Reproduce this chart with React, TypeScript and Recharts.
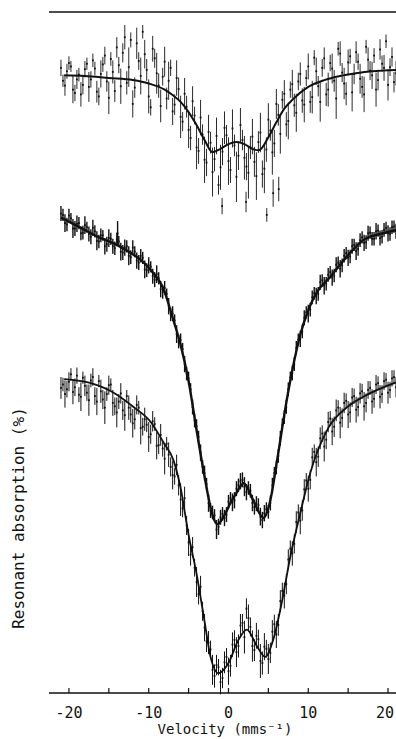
import { ComposedChart, Scatter, Line, XAxis, YAxis, ErrorBar, ReferenceLine } from "recharts";

type Pt = [number, number, number]; // velocity, absorption, error
type FitPt = [number, number];

// upper spectrum: noisy data
const topPoints: Pt[] = [
  [-21, 91.8, 1.2], [-20.5, 89.2, 1.5], [-20, 92.5, 1.0], [-19.5, 88.6, 2.0], [-19, 90.1, 1.4],
  [-18.5, 87.9, 1.8], [-18, 91.6, 1.2], [-17.5, 89.0, 2.2], [-17, 92.9, 1.0], [-16.5, 88.3, 1.6],
  [-16, 90.9, 2.0], [-15.5, 93.6, 1.3], [-15, 87.4, 2.4], [-14.5, 91.2, 1.7], [-14, 94.8, 1.5],
  [-13.5, 89.1, 2.6], [-13, 96.3, 1.8], [-12.5, 91.9, 2.9], [-12, 86.5, 2.0], [-11.5, 95.4, 2.3],
  [-11, 90.6, 2.7], [-10.5, 93.8, 2.1], [-10, 87.6, 2.5], [-9.5, 94.6, 1.9], [-9, 91.0, 3.0],
  [-8.5, 86.2, 2.4], [-8, 92.7, 2.2], [-7.5, 89.9, 2.8], [-7, 85.4, 2.0], [-6.5, 90.3, 2.6],
  [-6, 84.6, 3.1], [-5.5, 88.0, 2.3], [-5, 82.7, 2.7], [-4.5, 86.9, 2.2], [-4, 80.1, 3.2],
  [-3.5, 84.5, 2.6], [-3, 78.3, 3.4], [-2.5, 82.4, 2.5], [-2, 76.5, 3.6], [-1.5, 81.8, 2.7],
  [-1, 77.2, 3.3], [-0.5, 83.0, 2.4], [0, 78.1, 3.5], [0.5, 82.9, 2.8], [1, 75.8, 3.7],
  [1.5, 83.4, 2.5], [2, 78.6, 3.2], [2.5, 76.4, 3.8], [3, 81.7, 2.6], [3.5, 75.9, 3.5],
  [4, 82.3, 2.9], [4.5, 77.0, 3.6], [5, 84.2, 2.4], [5.5, 79.4, 3.3], [6, 86.5, 2.2],
  [6.5, 82.1, 2.9], [7, 88.0, 2.0], [7.5, 84.0, 2.7], [8, 89.4, 2.1], [8.5, 85.2, 2.8],
  [9, 90.9, 1.7], [9.5, 86.4, 2.6], [10, 92.0, 1.9], [10.5, 87.5, 2.4], [11, 91.3, 2.0],
  [11.5, 86.8, 2.9], [12, 93.2, 1.6], [12.5, 88.6, 2.5], [13, 91.7, 2.2], [13.5, 87.3, 3.0],
  [14, 93.9, 1.8], [14.5, 89.5, 2.3], [15, 92.6, 1.9], [15.5, 88.2, 2.8], [16, 94.1, 1.6],
  [16.5, 90.2, 2.2], [17, 87.9, 2.6], [17.5, 93.0, 1.8], [18, 90.7, 2.0], [18.5, 88.6, 2.5],
  [19, 94.5, 1.5], [19.5, 91.8, 1.9], [20, 89.3, 2.3], [20.5, 93.4, 1.4], [21, 91.0, 1.8],
  [-0.8, 71.5, 1.2], [2.2, 72.1, 1.5], [4.8, 70.2, 1.0], [5.6, 73.4, 2.0], [6.3, 74.0, 1.8],
  [-20.75, 89.9, 0.9], [-20.25, 91.3, 1.1], [-19.75, 92.0, 0.8], [-19.25, 88.1, 1.2], [-18.75, 90.8, 1.0],
  [-18.25, 89.3, 1.4], [-17.75, 92.4, 0.9], [-17.25, 90.1, 1.2], [-16.75, 91.7, 1.0], [-16.25, 87.6, 1.3],
  [-15.75, 92.3, 1.1], [-15.25, 89.8, 1.5], [-14.75, 93.1, 1.0], [-14.25, 88.4, 1.6], [-13.75, 92.2, 1.2],
  [-13.25, 94.0, 1.4], [-12.75, 89.6, 1.7], [-12.25, 95.9, 1.1], [-11.75, 88.9, 1.5], [-11.25, 92.8, 1.3],
  [-10.75, 97.1, 1.0], [-10.25, 91.5, 1.6], [-9.75, 86.0, 1.2], [-9.25, 93.2, 1.4], [-8.75, 89.2, 1.8],
  [-8.25, 90.5, 1.3], [-7.75, 87.3, 1.6], [-7.25, 91.8, 1.2], [-6.75, 86.4, 1.5], [-6.25, 88.7, 1.7],
  [-5.75, 83.9, 1.4], [-5.25, 86.1, 1.6], [-4.75, 81.5, 1.8], [-4.25, 84.8, 1.3], [-3.75, 79.6, 1.9],
  [-3.25, 82.0, 1.5], [-2.75, 77.9, 2.0], [-2.25, 80.8, 1.6], [-1.75, 78.4, 1.8], [-1.25, 74.6, 1.4],
  [-0.75, 79.5, 2.0], [-0.25, 81.9, 1.5], [0.25, 76.8, 1.9], [0.75, 80.4, 1.6], [1.25, 78.9, 2.1],
  [1.75, 81.2, 1.5], [2.25, 77.3, 2.0], [2.75, 80.1, 1.7], [3.25, 78.0, 2.2], [3.75, 80.9, 1.6],
  [4.25, 76.2, 2.0], [4.75, 79.8, 1.8], [5.25, 82.6, 1.5], [5.75, 80.7, 2.0], [6.25, 84.9, 1.6],
  [6.75, 87.1, 1.3], [7.25, 83.5, 1.8], [7.75, 88.6, 1.2], [8.25, 86.3, 1.7], [8.75, 89.8, 1.3],
  [9.25, 87.0, 1.8], [9.75, 90.3, 1.2], [10.25, 86.8, 1.6], [10.75, 93.3, 1.1], [11.25, 89.1, 1.5],
  [11.75, 91.8, 1.3], [12.25, 87.9, 1.7], [12.75, 92.5, 1.2], [13.25, 89.9, 1.6], [13.75, 94.6, 1.0],
  [14.25, 91.1, 1.4], [14.75, 88.0, 1.7], [15.25, 93.5, 1.1], [15.75, 90.9, 1.5], [16.25, 92.7, 1.2],
  [16.75, 89.0, 1.6], [17.25, 94.9, 1.0], [17.75, 91.4, 1.4], [18.25, 93.6, 1.1], [18.75, 90.0, 1.5],
  [19.25, 92.4, 1.2], [19.75, 95.7, 1.0], [20.25, 91.9, 1.3], [20.75, 89.7, 1.5],
];

// middle spectrum: dense, low noise
const midPoints: Pt[] = [
  [-21, 70.4, 1.1], [-20.5, 69.0, 1.3], [-20, 70.1, 1.0], [-19.5, 68.2, 1.4], [-19, 68.9, 1.2],
  [-18.5, 67.5, 1.0], [-18, 68.7, 1.3], [-17.5, 67.4, 1.1], [-17, 68.3, 1.2], [-16.5, 66.4, 1.4],
  [-16, 67.2, 1.0], [-15.5, 65.6, 1.2], [-15, 66.8, 1.3], [-14.5, 65.6, 1.1], [-14, 66.6, 1.0],
  [-13.9, 67.5, 1.8], [-13.5, 64.8, 1.3], [-13, 65.4, 1.2], [-12.5, 64.2, 1.4], [-12, 65.4, 1.1],
  [-11.5, 63.5, 1.2], [-11, 64.2, 1.0], [-10.5, 62.2, 1.3], [-10, 62.8, 1.2], [-9.5, 61.2, 1.1],
  [-9, 61.5, 1.3], [-8.5, 59.3, 1.2], [-8, 59.5, 1.0], [-7.5, 56.8, 1.2], [-7, 55.7, 1.1],
  [-6.5, 52.7, 1.3], [-6, 51.8, 1.0], [-5.5, 48.3, 1.2], [-5, 46.2, 1.0], [-4.5, 42.0, 1.1],
  [-4, 39.2, 1.0], [-3.5, 35.3, 1.2], [-3, 32.3, 1.1], [-2.5, 27.9, 1.3], [-2, 26.5, 1.0],
  [-1.5, 24.0, 1.4], [-1, 25.8, 1.1], [-0.5, 25.7, 1.2], [0, 28.1, 1.0], [0.5, 28.0, 1.3],
  [1, 30.0, 1.1], [1.5, 31.1, 1.2], [2, 30.3, 1.4], [2.5, 30.1, 1.0], [3, 27.9, 1.2],
  [3.5, 27.8, 1.1], [4, 25.9, 1.3], [4.5, 26.4, 1.2], [5, 26.6, 1.0], [5.5, 30.5, 1.1],
  [6, 33.1, 1.0], [6.5, 37.4, 1.1], [7, 40.5, 1.0], [7.5, 44.6, 1.0], [8, 47.0, 1.1],
  [8.5, 50.7, 1.0], [9, 52.0, 1.2], [9.5, 55.1, 1.1], [10, 55.7, 1.3], [10.5, 58.1, 1.0],
  [11, 58.3, 1.2], [11.5, 60.3, 1.1], [12, 59.8, 1.3], [12.5, 61.4, 1.0], [13, 61.0, 1.2],
  [13.5, 62.9, 1.1], [14, 62.3, 1.3], [14.5, 64.2, 1.0], [15, 63.9, 1.2], [15.5, 65.6, 1.1],
  [16, 64.9, 1.3], [16.5, 66.5, 1.0], [17, 66.1, 1.2], [17.5, 67.5, 1.1], [18, 66.7, 1.0],
  [18.5, 67.8, 1.2], [19, 66.8, 1.1], [19.5, 68.0, 1.0], [20, 67.5, 1.2], [20.5, 68.4, 1.0],
  [21, 67.8, 1.1],
  [-20.75, 70.2, 0.9], [-20.25, 68.8, 1.0], [-19.75, 69.7, 0.8], [-19.25, 68.2, 1.1], [-18.75, 69.0, 0.9],
  [-18.25, 67.6, 1.0], [-17.75, 68.4, 0.8], [-17.25, 67.0, 1.1], [-16.75, 67.8, 0.9], [-16.25, 66.3, 1.0],
  [-15.75, 67.2, 0.8], [-15.25, 65.9, 1.1], [-14.75, 66.7, 0.9], [-14.25, 65.3, 1.0], [-13.75, 66.3, 0.8],
  [-13.25, 64.7, 1.1], [-12.75, 65.6, 0.9], [-12.25, 64.0, 1.0], [-11.75, 64.8, 0.8], [-11.25, 63.2, 1.1],
  [-10.75, 63.9, 0.9], [-10.25, 62.1, 1.0], [-9.75, 62.6, 0.8], [-9.25, 60.7, 1.1], [-8.75, 60.9, 0.9],
  [-8.25, 58.9, 1.0], [-7.75, 58.6, 0.8], [-7.25, 55.6, 1.0], [-6.75, 54.7, 0.9], [-6.25, 51.6, 1.0],
  [-5.75, 50.5, 0.9], [-5.25, 46.9, 1.0], [-4.75, 44.6, 0.9], [-4.25, 40.0, 1.0], [-3.75, 37.6, 0.9],
  [-3.25, 33.2, 1.0], [-2.75, 30.7, 0.9], [-2.25, 26.8, 1.1], [-1.75, 26.1, 0.9], [-1.25, 24.4, 1.2],
  [-0.75, 26.3, 1.0], [-0.25, 26.2, 1.1], [0.25, 28.6, 0.9], [0.75, 28.3, 1.2], [1.25, 30.5, 1.0],
  [1.75, 31.3, 1.1], [2.25, 29.5, 1.2], [2.75, 29.7, 1.0], [3.25, 27.3, 1.1], [3.75, 27.6, 1.0],
  [4.25, 25.4, 1.2], [4.75, 27.0, 1.0], [5.25, 27.9, 1.1], [5.75, 32.3, 0.9], [6.25, 34.8, 1.0],
  [6.75, 39.4, 0.9], [7.25, 42.0, 1.0], [7.75, 46.3, 0.9], [8.25, 48.3, 1.0], [8.75, 51.9, 0.9],
  [9.25, 53.1, 1.0], [9.75, 55.9, 0.9], [10.25, 56.3, 1.0], [10.75, 58.7, 0.9], [11.25, 58.6, 1.0],
  [11.75, 60.6, 0.9], [12.25, 60.1, 1.0], [12.75, 61.8, 0.9], [13.25, 61.3, 1.0], [13.75, 63.2, 0.9],
  [14.25, 62.8, 1.0], [14.75, 64.6, 0.9], [15.25, 64.1, 1.0], [15.75, 65.8, 0.9], [16.25, 65.2, 1.0],
  [16.75, 66.9, 0.9], [17.25, 66.2, 1.0], [17.75, 67.6, 0.9], [18.25, 66.7, 1.0], [18.75, 67.9, 0.9],
  [19.25, 67.0, 1.0], [19.75, 68.3, 0.9], [20.25, 67.4, 1.0], [20.75, 68.5, 0.9],
];

// lower spectrum: moderate noise
const lowPoints: Pt[] = [
  [-21, 44.8, 1.6], [-20.5, 43.9, 2.0], [-20, 45.7, 1.4], [-19.5, 44.2, 1.8], [-19, 46.6, 1.2],
  [-18.5, 43.5, 2.1], [-18, 45.1, 1.5], [-17.5, 43.0, 2.3], [-17, 46.4, 1.3], [-16.5, 42.8, 2.0],
  [-16, 44.3, 1.7], [-15.5, 41.9, 2.4], [-15, 45.2, 1.4], [-14.5, 42.6, 1.9], [-14, 41.2, 2.2],
  [-13.5, 44.0, 1.5], [-13, 40.8, 2.3], [-12.5, 41.9, 1.8], [-12, 39.6, 2.1], [-11.5, 42.3, 1.4],
  [-11, 38.9, 2.4], [-10.5, 40.2, 1.7], [-10, 37.6, 2.2], [-9.5, 39.9, 1.5], [-9, 36.3, 2.0],
  [-8.5, 37.9, 1.6], [-8, 34.4, 2.3], [-7.5, 35.0, 1.8], [-7, 32.0, 2.1], [-6.5, 33.5, 1.5],
  [-6, 28.4, 2.4], [-5.5, 28.6, 1.7], [-5, 22.1, 2.0], [-4.5, 21.4, 1.5], [-4, 16.3, 2.2],
  [-3.5, 15.6, 1.6], [-3, 9.6, 2.0], [-2.5, 7.4, 1.7], [-2, 3.4, 2.2], [-1.5, 4.1, 1.5],
  [-1, 1.6, 1.8], [-0.5, 4.5, 1.6], [0, 3.2, 2.0], [0.5, 7.1, 1.8], [1, 6.0, 2.2],
  [1.5, 9.9, 1.7], [2, 8.2, 2.4], [2.5, 11.0, 2.0], [3, 6.9, 2.3], [3.5, 8.4, 1.9],
  [4, 4.7, 2.5], [4.5, 6.8, 2.0], [5, 5.0, 2.2], [5.5, 9.0, 1.7], [6, 8.6, 2.0],
  [6.5, 13.5, 1.6], [7, 14.3, 1.9], [7.5, 19.6, 1.5], [8, 20.5, 1.8], [8.5, 25.1, 1.6],
  [9, 25.3, 2.0], [9.5, 29.9, 1.5], [10, 30.0, 1.9], [10.5, 34.6, 1.4], [11, 33.9, 2.1],
  [11.5, 37.4, 1.6], [12, 36.2, 2.2], [12.5, 39.8, 1.5], [13, 38.4, 2.0], [13.5, 41.5, 1.6],
  [14, 39.7, 2.3], [14.5, 42.6, 1.5], [15, 40.9, 2.0], [15.5, 43.4, 1.4], [16, 41.6, 1.9],
  [16.5, 44.0, 1.5], [17, 42.1, 2.1], [17.5, 44.5, 1.3], [18, 42.8, 1.8], [18.5, 45.3, 1.4],
  [19, 43.5, 1.7], [19.5, 45.8, 1.3], [20, 44.1, 1.6], [20.5, 46.2, 1.2], [21, 44.9, 1.5],
  [-20.75, 45.3, 1.0], [-20.25, 44.6, 1.2], [-19.75, 46.8, 0.9], [-19.25, 44.9, 1.3], [-18.75, 43.8, 1.1],
  [-18.25, 46.3, 0.9], [-17.75, 44.1, 1.2], [-17.25, 45.9, 1.0], [-16.75, 43.6, 1.3], [-16.25, 45.8, 0.9],
  [-15.75, 43.1, 1.4], [-15.25, 43.9, 1.0], [-14.75, 45.3, 0.9], [-14.25, 42.1, 1.3], [-13.75, 42.8, 1.1],
  [-13.25, 41.5, 1.4], [-12.75, 43.6, 0.9], [-12.25, 40.9, 1.2], [-11.75, 40.2, 1.5], [-11.25, 41.9, 1.0],
  [-10.75, 39.1, 1.3], [-10.25, 39.4, 1.1], [-9.75, 38.0, 1.4], [-9.25, 39.5, 1.0], [-8.75, 36.4, 1.3],
  [-8.25, 35.9, 1.2], [-7.75, 36.6, 1.0], [-7.25, 33.2, 1.4], [-6.75, 31.8, 1.2], [-6.25, 30.5, 1.5],
  [-5.75, 27.1, 1.3], [-5.25, 24.6, 1.4], [-4.75, 20.3, 1.6], [-4.25, 18.4, 1.3], [-3.75, 14.5, 1.5],
  [-3.25, 12.0, 1.4], [-2.75, 7.6, 1.6], [-2.25, 6.4, 1.3], [-1.75, 2.5, 1.7], [-1.25, 3.8, 1.2],
  [-0.75, 2.2, 1.5], [-0.25, 5.3, 1.3], [0.25, 4.0, 1.6], [0.75, 7.8, 1.4], [1.25, 6.9, 1.7],
  [1.75, 10.3, 1.3], [2.25, 12.4, 1.5], [2.75, 9.7, 1.4], [3.25, 6.3, 1.6], [3.75, 7.9, 1.4],
  [4.25, 4.4, 1.7], [4.75, 6.5, 1.3], [5.25, 5.9, 1.5], [5.75, 10.1, 1.4], [6.25, 10.0, 1.6],
  [6.75, 15.0, 1.2], [7.25, 16.0, 1.5], [7.75, 21.2, 1.2], [8.25, 21.9, 1.4], [8.75, 26.5, 1.2],
  [9.25, 26.8, 1.5], [9.75, 31.2, 1.1], [10.25, 31.3, 1.4], [10.75, 35.4, 1.1], [11.25, 34.7, 1.5],
  [11.75, 38.1, 1.2], [12.25, 37.2, 1.4], [12.75, 40.3, 1.1], [13.25, 39.1, 1.5], [13.75, 41.9, 1.1],
  [14.25, 40.4, 1.4], [14.75, 42.9, 1.1], [15.25, 41.2, 1.5], [15.75, 43.6, 1.1], [16.25, 42.0, 1.4],
  [16.75, 44.3, 1.1], [17.25, 42.6, 1.4], [17.75, 44.8, 1.0], [18.25, 43.2, 1.3], [18.75, 45.5, 1.0],
  [19.25, 43.9, 1.3], [19.75, 46.0, 1.0], [20.25, 44.5, 1.2], [20.75, 46.4, 1.0],
];

// fitted curves
const topFit: FitPt[] = [
  [-20.6, 90.7], [-18, 90.6], [-15, 90.3], [-12, 90.0], [-10, 89.5], [-8, 88.6], [-7, 87.8],
  [-6, 86.8], [-5, 85.3], [-4, 83.4], [-3, 81.2], [-2, 79.4], [-1, 79.9], [0, 80.6], [1, 80.9],
  [2, 80.6], [3, 79.9], [3.8, 79.7], [5, 81.6], [6, 83.8], [7, 85.8], [8, 87.1], [10, 89.0],
  [12, 90.0], [14, 90.6], [16, 91.0], [18, 91.3], [21, 91.5],
];

const midFit: FitPt[] = [
  [-21, 69.8], [-18.5, 68.3], [-16.4, 67.0], [-14, 65.8], [-12.25, 64.6], [-11, 63.6],
  [-9.75, 62.1], [-8.1, 59.2], [-7, 55.1], [-6, 51.1], [-5, 45.8], [-4, 38.6], [-3, 31.8],
  [-2, 26.1], [-1.4, 24.8], [-0.5, 26.1], [0.25, 27.9], [1, 29.4], [1.9, 30.8], [3.1, 28.3],
  [4.4, 25.7], [5.25, 28.3], [6.1, 34.2], [7.3, 43.0], [8, 47.4], [9, 52.6], [10, 56.2],
  [11, 58.7], [12.75, 61.1], [15, 64.3], [16.9, 66.5], [19, 67.4], [21, 68.0],
];

const lowFit: FitPt[] = [
  [-20.6, 46.1], [-17.25, 45.5], [-14.4, 44.1], [-11.9, 42.0], [-9.75, 39.8], [-8.1, 36.7],
  [-6.9, 34.2], [-6, 30.1], [-5, 23.2], [-4, 17.5], [-3, 10.5], [-2.25, 5.3], [-1.25, 2.9],
  [0, 4.4], [1.25, 7.8], [2.3, 9.3], [3.6, 6.8], [4.6, 5.3], [5.6, 7.8], [6.75, 13.7],
  [7.75, 20.0], [9, 26.4], [10.25, 32.3], [12.5, 38.9], [14.9, 42.0], [16.9, 43.5], [21, 45.6],
];

const velTicks = [-20, -15, -10, -5, 0, 5, 10, 15, 20];
const velLabels = [-20, -10, 0, 10, 20];

const INK = "#111";
const MONO = "'DejaVu Sans Mono', monospace";

const toPts = (a: Pt[]) => a.map(([v, y, e]) => ({ v, y, e }));
const toFit = (a: FitPt[]) => a.map(([v, y]) => ({ v, y }));

function VelTick({ x, y, payload }: any) {
  const v = payload.value as number;
  // last label sits at the right edge of the page
  const lx = v === 20 ? x - 3 : x;
  return (
    <g>
      <line x1={x} x2={x} y1={y} y2={y - 5} stroke={INK} strokeWidth={1.2} />
      {velLabels.includes(v) && (
        <text x={lx} y={y + 25} textAnchor="middle" fontSize={15} fontFamily={MONO} fill={INK}>
          {v < 0 ? `-${-v}` : String(v)}
        </text>
      )}
    </g>
  );
}

const Dot = (p: any) => (
  <rect x={p.cx - 0.9} y={p.cy - 0.9} width={1.8} height={1.8} fill={INK} />
);

export default function App() {
  return (
    <div style={{ position: "absolute", left: 0, top: 0, width: 396, height: 739, background: "#fff" }}>
      <ComposedChart width={396} height={739} margin={{ top: 12, right: 0, bottom: 0, left: 49 }}>
        <XAxis
          type="number"
          dataKey="v"
          domain={[-22.5, 21]}
          ticks={velTicks}
          interval={0}
          tick={<VelTick />}
          tickLine={false}
          tickSize={0}
          tickMargin={0}
          height={46}
          axisLine={{ stroke: INK, strokeWidth: 1.5 }}
          allowDataOverflow
        />
        <YAxis
          type="number"
          dataKey="y"
          domain={[0, 100]}
          width={0}
          tick={false}
          tickLine={false}
          axisLine={{ stroke: INK, strokeWidth: 1.5 }}
          allowDataOverflow
        />
        <ReferenceLine y={100} stroke={INK} strokeWidth={1.5} />

        <Scatter data={toPts(topPoints)} shape={Dot} fill={INK} isAnimationActive={false}>
          <ErrorBar dataKey="e" direction="y" width={0} stroke={INK} strokeWidth={0.9} />
        </Scatter>
        <Scatter data={toPts(midPoints)} shape={Dot} fill={INK} isAnimationActive={false}>
          <ErrorBar dataKey="e" direction="y" width={0} stroke={INK} strokeWidth={1.4} />
        </Scatter>
        <Scatter data={toPts(lowPoints)} shape={Dot} fill={INK} isAnimationActive={false}>
          <ErrorBar dataKey="e" direction="y" width={0} stroke={INK} strokeWidth={1} />
        </Scatter>

        <Line data={toFit(topFit)} dataKey="y" type="monotone" dot={false} stroke={INK} strokeWidth={2} isAnimationActive={false} />
        <Line data={toFit(midFit)} dataKey="y" type="monotone" dot={false} stroke={INK} strokeWidth={2.4} isAnimationActive={false} />
        <Line data={toFit(lowFit)} dataKey="y" type="monotone" dot={false} stroke={INK} strokeWidth={1.8} isAnimationActive={false} />
      </ComposedChart>

      <div
        style={{
          position: "absolute",
          left: 225,
          top: 729,
          transform: "translate(-50%, -50%)",
          fontFamily: MONO,
          fontSize: 14,
          lineHeight: "16px",
          color: INK,
          whiteSpace: "nowrap",
        }}
      >
        Velocity (mms⁻¹)
      </div>
      <div
        style={{
          position: "absolute",
          left: 18,
          top: 518,
          transform: "translate(-50%, -50%) rotate(-90deg)",
          fontFamily: MONO,
          fontSize: 16,
          color: INK,
          whiteSpace: "nowrap",
        }}
      >
        Resonant absorption (%)
      </div>
    </div>
  );
}
